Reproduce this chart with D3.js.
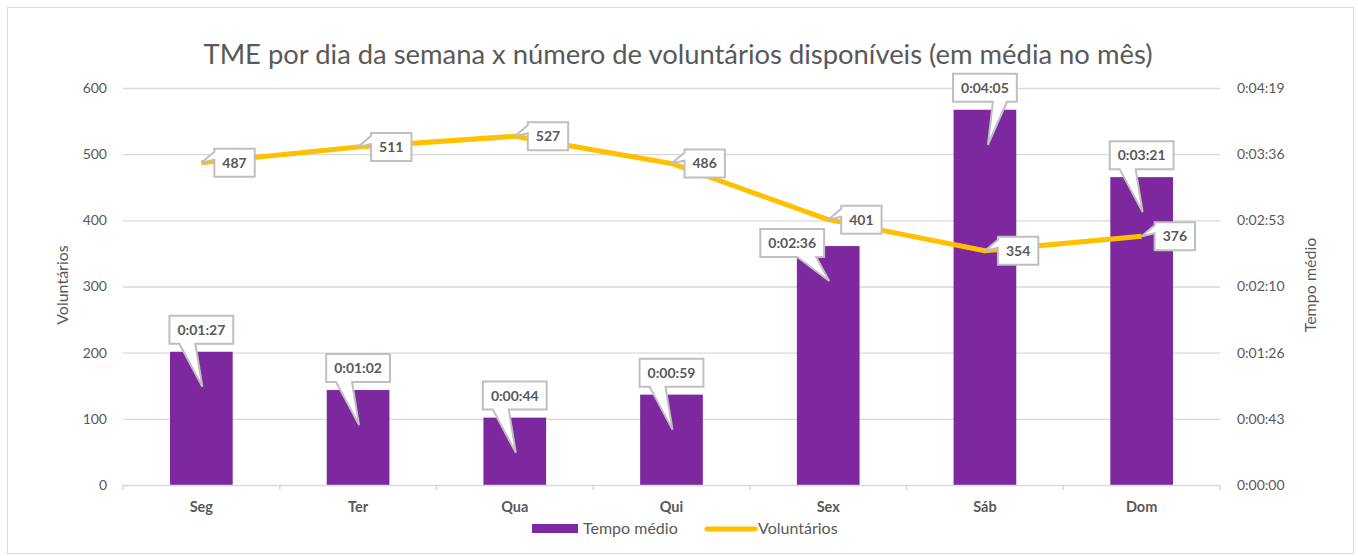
<!DOCTYPE html>
<html>
<head>
<meta charset="utf-8">
<script src="https://cdn.jsdelivr.net/npm/d3@7"></script>
<style>
  body { margin: 0; background: #fff; }
  text { font-family: Lato, "Noto Sans", sans-serif; }
</style>
</head>
<body>
<div id="chart"></div>
<script>
// dados do gráfico
var dias = ["Seg", "Ter", "Qua", "Qui", "Sex", "Sáb", "Dom"];
var tempoMedio = ["0:01:27", "0:01:02", "0:00:44", "0:00:59", "0:02:36", "0:04:05", "0:03:21"];
var voluntarios = [487, 511, 527, 486, 401, 354, 376];
var ticksEsquerda = [0, 100, 200, 300, 400, 500, 600];
var ticksDireita = ["0:00:00", "0:00:43", "0:01:26", "0:02:10", "0:02:53", "0:03:36", "0:04:19"];

function emSegundos(s) {
    var p = s.split(":").map(Number);
    return p[0] * 3600 + p[1] * 60 + p[2];
}

var width = 1358, height = 556;
var mEsq = 123, mDir = 1220, mTopo = 88, mBase = 485;

var svg = d3.select("#chart").append("svg").attr("width", width).attr("height", height);

// borda do gráfico
svg.append("rect").attr("x", 7.5).attr("y", 7.5).attr("width", 1346).attr("height", 546)
    .attr("fill", "#fff").attr("stroke", "#d9d9d9");

svg.append("text").attr("x", 678).attr("y", 64).attr("text-anchor", "middle")
    .attr("font-size", 27.4).attr("fill", "#595959")
    .text("TME por dia da semana x número de voluntários disponíveis (em média no mês)");

var x = d3.scaleBand().domain(dias).range([mEsq, mDir]).paddingInner(0.6).paddingOuter(0.3);
var y = d3.scaleLinear().domain([0, 600]).range([mBase, mTopo]);
// eixo do tempo: máximo de 0,003 dia (259,2 s)
var y2 = d3.scaleLinear().domain([0, 259.2]).range([mBase, mTopo]);
var step = x.step();

// grade
svg.append("g").selectAll("line").data(ticksEsquerda.slice(1)).enter().append("line")
    .attr("x1", mEsq).attr("x2", mDir)
    .attr("y1", function (d) { return y(d) + 0.5; }).attr("y2", function (d) { return y(d) + 0.5; })
    .attr("stroke", "#d9d9d9").attr("stroke-width", 1.3);

// eixo esquerdo
var eixoY = svg.append("g").attr("transform", "translate(" + (mEsq - 16) + ",0)")
    .call(d3.axisLeft(y).tickValues(ticksEsquerda).tickSize(0).tickPadding(0));
eixoY.select(".domain").remove();
eixoY.selectAll("text").attr("font-size", 14).attr("fill", "#595959").style("font-family", "Lato");

// eixo direito
var eixoY2 = svg.append("g").attr("transform", "translate(" + (mDir + 17) + ",0)")
    .call(d3.axisRight(y2).tickValues(d3.range(ticksDireita.length).map(function (i) { return i * 43.2; }))
        .tickFormat(function (d, i) { return ticksDireita[i]; }).tickSize(0).tickPadding(0));
eixoY2.select(".domain").remove();
eixoY2.selectAll("text").attr("font-size", 14).attr("fill", "#595959").style("font-family", "Lato");

// barras
svg.append("g").selectAll("rect").data(dias).enter().append("rect")
    .attr("x", function (d) { return x(d); })
    .attr("y", function (d, i) { return y2(emSegundos(tempoMedio[i])); })
    .attr("width", x.bandwidth())
    .attr("height", function (d, i) { return mBase - y2(emSegundos(tempoMedio[i])); })
    .attr("fill", "#7e28a0");

// eixo x
var eixoX = svg.append("g").attr("transform", "translate(0," + mBase + ")");
eixoX.append("line").attr("x1", mEsq).attr("x2", mDir).attr("y1", 0.5).attr("y2", 0.5)
    .attr("stroke", "#d9d9d9").attr("stroke-width", 1.5);
eixoX.selectAll(".tk").data(d3.range(dias.length + 1)).enter().append("line")
    .attr("x1", function (i) { return mEsq + i * step; }).attr("x2", function (i) { return mEsq + i * step; })
    .attr("y1", 0).attr("y2", 5).attr("stroke", "#d9d9d9").attr("stroke-width", 1.5);
eixoX.selectAll("text").data(dias).enter().append("text")
    .attr("x", function (d) { return x(d) + x.bandwidth() / 2; }).attr("y", 27)
    .attr("text-anchor", "middle").attr("font-size", 14.5).attr("font-weight", "bold")
    .attr("fill", "#595959").text(function (d) { return d; });

// linha de voluntários
var linha = d3.line()
    .x(function (d, i) { return x(dias[i]) + x.bandwidth() / 2; })
    .y(function (d) { return y(d); });
svg.append("path").datum(voluntarios).attr("d", linha)
    .attr("fill", "none").attr("stroke", "#ffc000").attr("stroke-width", 5).attr("stroke-linejoin", "round");

// títulos dos eixos
svg.append("text").attr("transform", "translate(68,285) rotate(-90)").attr("text-anchor", "middle")
    .attr("font-size", 16).attr("fill", "#595959").text("Voluntários");
svg.append("text").attr("transform", "translate(1316,285) rotate(-90)").attr("text-anchor", "middle")
    .attr("font-size", 16).attr("fill", "#595959").text("Tempo médio");

// balões de rótulo
var camada = svg.append("g");
function balao(texto, bx, by, bw, bh, seta) {
    var g = camada.append("g");
    var x0 = bx, x1 = bx + bw, y0 = by, y1 = by + bh, p;
    if (seta.lado === "baixo") {
        p = "M" + x0 + "," + y0 + "H" + x1 + "V" + y1 + "H" + seta.b2 + "L" + seta.tx + "," + seta.ty +
            "L" + seta.b1 + "," + y1 + "H" + x0 + "Z";
    } else {
        p = "M" + x0 + "," + y0 + "H" + x1 + "V" + y1 + "H" + x0 + "V" + seta.b2 + "L" + seta.tx + "," + seta.ty +
            "L" + x0 + "," + seta.b1 + "Z";
    }
    g.append("path").attr("d", p).attr("fill", "#fff").attr("stroke", "#bfbfbf").attr("stroke-width", 2)
        .attr("stroke-linejoin", "miter");
    g.append("text").attr("x", bx + bw / 2).attr("y", by + bh / 2 + 5).attr("text-anchor", "middle")
        .attr("font-size", 14).attr("font-weight", "bold").attr("fill", "#595959").text(texto);
}

var medidor = svg.append("text").attr("font-size", 14).attr("font-weight", "bold");
function larguraTexto(t) { medidor.text(t); return medidor.node().getComputedTextLength(); }

tempoMedio.forEach(function (t, i) {
    var cx = x(dias[i]) + x.bandwidth() / 2;
    var topo = y2(emSegundos(t));
    var bw = larguraTexto(t) + 16, bh = 28;
    var bx = cx - bw / 2, by = topo - 8 - bh;
    var b1 = cx - 22, b2 = cx - 6, tx = cx + 1;
    if (i === 5) { b1 = cx + 8; b2 = cx + 22; tx = cx + 3; }
    if (i === 4) {
        // rótulo deslocado para não cobrir o 401
        bx = cx - 36 - bw / 2; by = topo + 11 - bh;
        b1 = cx - 31; b2 = cx - 12;
    }
    balao(t, bx, by, bw, bh, { lado: "baixo", b1: b1, b2: b2, tx: tx, ty: topo + 35 });
});

voluntarios.forEach(function (v, i) {
    var px = x(dias[i]) + x.bandwidth() / 2;
    var py = y(v);
    var t = String(v);
    var bw = larguraTexto(t) + 16, bh = 28;
    var bx = px + 13, by = py - bh / 2;
    balao(t, bx, by, bw, bh, { lado: "esquerda", b1: by + 3, b2: by + 11, tx: px, ty: py });
});
medidor.remove();

// legenda
var leg = svg.append("g");
leg.append("rect").attr("x", 532).attr("y", 524).attr("width", 46).attr("height", 9).attr("fill", "#7e28a0");
leg.append("text").attr("x", 583).attr("y", 534).attr("font-size", 16).attr("fill", "#595959").text("Tempo médio");
leg.append("line").attr("x1", 707).attr("x2", 755).attr("y1", 529).attr("y2", 529)
    .attr("stroke", "#ffc000").attr("stroke-width", 5).attr("stroke-linecap", "round");
leg.append("text").attr("x", 758).attr("y", 534).attr("font-size", 16).attr("fill", "#595959").text("Voluntários");
</script>
</body>
</html>
